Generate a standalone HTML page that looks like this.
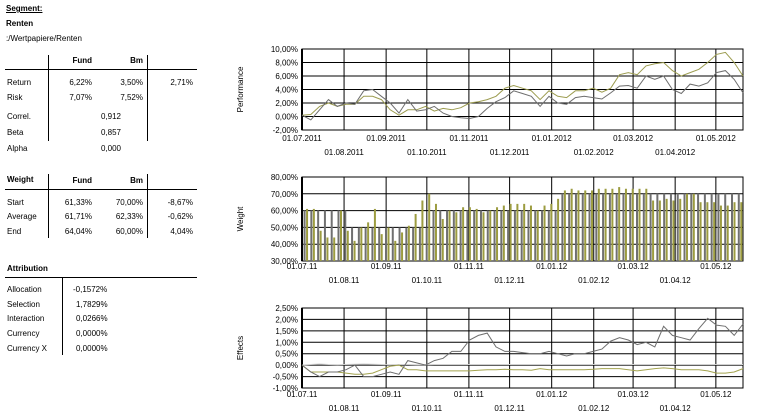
<!DOCTYPE html>
<html><head><meta charset="utf-8"><style>
body{margin:0;width:763px;height:419px;background:#fff;font-family:"Liberation Sans",sans-serif;overflow:hidden;position:relative}
.t{position:absolute;font-size:8px;color:#000;white-space:nowrap}
.b{font-weight:bold}
.r{text-align:right}
.vl{position:absolute;width:1px;background:#000}
.hl{position:absolute;height:1px;background:#000}
svg{position:absolute;left:0;top:0}
</style></head><body>
<div class="t b" style="left:6px;top:4px;text-decoration:underline">Segment:</div>
<div class="t b" style="left:6px;top:19px">Renten</div>
<div class="t" style="left:6px;top:34px">:/Wertpapiere/Renten</div>

<div>
<div class="vl" style="left:48px;top:55px;height:86px"></div>
<div class="vl" style="left:147px;top:55px;height:86px"></div>
<div class="hl" style="left:5px;top:69px;width:192px"></div>
<div class="t b r" style="left:52px;top:56px;width:40px">Fund</div>
<div class="t b r" style="left:103px;top:56px;width:40px">Bm</div>
<div class="t" style="left:7px;top:78px">Return</div>
<div class="t r" style="left:52px;top:78px;width:40px">6,22%</div>
<div class="t r" style="left:103px;top:78px;width:40px">3,50%</div>
<div class="t r" style="left:150px;top:78px;width:43px">2,71%</div>
<div class="t" style="left:7px;top:93px">Risk</div>
<div class="t r" style="left:52px;top:93px;width:40px">7,07%</div>
<div class="t r" style="left:103px;top:93px;width:40px">7,52%</div>
<div class="t" style="left:7px;top:112px">Correl.</div>
<div class="t r" style="left:80px;top:112px;width:41px">0,912</div>
<div class="t" style="left:7px;top:128px">Beta</div>
<div class="t r" style="left:80px;top:128px;width:41px">0,857</div>
<div class="t" style="left:7px;top:144px">Alpha</div>
<div class="t r" style="left:80px;top:144px;width:41px">0,000</div>
</div>

<div>
<div class="vl" style="left:48px;top:174px;height:64px"></div>
<div class="vl" style="left:147px;top:174px;height:64px"></div>
<div class="hl" style="left:5px;top:189px;width:192px"></div>
<div class="t b" style="left:7px;top:175px">Weight</div>
<div class="t b r" style="left:52px;top:176px;width:40px">Fund</div>
<div class="t b r" style="left:103px;top:176px;width:40px">Bm</div>
<div class="t" style="left:7px;top:198px">Start</div>
<div class="t r" style="left:52px;top:198px;width:40px">61,33%</div>
<div class="t r" style="left:103px;top:198px;width:40px">70,00%</div>
<div class="t r" style="left:150px;top:198px;width:43px">-8,67%</div>
<div class="t" style="left:7px;top:212px">Average</div>
<div class="t r" style="left:52px;top:212px;width:40px">61,71%</div>
<div class="t r" style="left:103px;top:212px;width:40px">62,33%</div>
<div class="t r" style="left:150px;top:212px;width:43px">-0,62%</div>
<div class="t" style="left:7px;top:227px">End</div>
<div class="t r" style="left:52px;top:227px;width:40px">64,04%</div>
<div class="t r" style="left:103px;top:227px;width:40px">60,00%</div>
<div class="t r" style="left:150px;top:227px;width:43px">4,04%</div>
</div>

<div>
<div class="t b" style="left:7px;top:264px;font-size:8px">Attribution</div>
<div class="hl" style="left:5px;top:277px;width:192px"></div>
<div class="vl" style="left:62px;top:277px;height:78px"></div>
<div class="t" style="left:7px;top:285px">Allocation</div><div class="t" style="left:73px;top:285px">-0,1572%</div>
<div class="t" style="left:7px;top:300px">Selection</div><div class="t" style="left:76px;top:300px">1,7829%</div>
<div class="t" style="left:7px;top:314px">Interaction</div><div class="t" style="left:76px;top:314px">0,0266%</div>
<div class="t" style="left:7px;top:329px">Currency</div><div class="t" style="left:76px;top:329px">0,0000%</div>
<div class="t" style="left:7px;top:344px">Currency X</div><div class="t" style="left:76px;top:344px">0,0000%</div>
</div>

<svg id="svg" width="763" height="419"></svg>
<script>
const monthsLong=["01.07.2011","01.08.2011","01.09.2011","01.10.2011","01.11.2011","01.12.2011","01.01.2012","01.02.2012","01.03.2012","01.04.2012","01.05.2012"];
const monthsShort=["01.07.11","01.08.11","01.09.11","01.10.11","01.11.11","01.12.11","01.01.12","01.02.12","01.03.12","01.04.12","01.05.12"];
const monthDays=[0,31,62,92,123,153,184,215,244,275,305];
const totalDays=325;
const perfTicks=[-2,0,2,4,6,8,10];
const perfFund=[0.2,0.3,1.5,2.0,1.5, 1.8,1.8,3.0,3.0,2.5, 1.0,0.2,1.0,1.0, 1.5,0.8,1.2,1.0,1.3, 2.0,2.2,2.5,3.0, 4.2,4.6,4.2,3.8, 2.5,3.8,3.0,2.8,3.8, 3.8,4.2,3.6,4.2, 6.2,6.5,6.2,7.5,7.8, 8.0,6.8,6.0,6.5, 7.0,8.0,9.2,9.5,8.0,6.0];
const perfBm=[0.2,-0.5,1.0,2.5,1.5, 2.0,1.8,3.8,4.0,3.0, 2.0,0.5,2.5,0.8, 1.0,1.5,0.5,0.0,-0.2, -0.3,0.0,1.2,2.2, 2.8,3.8,3.4,3.0, 1.5,3.0,2.0,1.8,2.8, 3.0,2.8,2.6,3.5, 4.5,4.6,4.2,6.0,5.5, 6.0,4.0,3.4,4.8, 4.5,5.0,6.5,6.8,5.5,3.5];
const weightTicks=[30,40,50,60,70,80];
const weightBm=[60,60,60,60,60,60, 60,50,50,50,50,50, 50,50,50,50,50,50, 50,60,60,60,60,60, 60,60,60,60,60,60, 60,60,60,60,60,60, 60,60,70,70,70,70, 70,70,70,70,70,70, 70,70,70,70,70,70, 70,70,70,70,70,70, 70,70,70,70,70];
const weightFund=[61,61,48,44,44,60, 48,42,50,53,61,46, 50,42,47,51,58,66, 70,64,55,60,59,62, 62,61,59,60,62,63, 64,64,64,63,60,63, 64,67,72,73,72,72, 72,73,73,73,74,73, 73,73,73,66,66,67, 66,67,70,70,65,65, 65,63,63,65,65];
const effTicks=[-1,-0.5,0,0.5,1,1.5,2,2.5];
const effTickLabels=["-1,00%","-0,50%","0,00%","0,50%","1,00%","1,50%","2,00%","2,50%"];
const effSelection=[0,-0.3,-0.5,-0.3,-0.3, -0.2,0,-0.5,-0.5,-0.4, -0.3,-0.4,0.2,0.1, 0.0,0.2,0.3,0.6,0.6, 1.1,1.3,1.4,0.8, 0.6,0.6,0.55,0.5, 0.5,0.6,0.5,0.4,0.5, 0.5,0.6,0.7,1.05, 1.2,1.1,0.9,1.0,0.8, 1.7,1.3,1.2,1.1, 1.6,2.05,1.75,1.7,1.3,1.8];
const effAllocation=[0,-0.3,-0.3,-0.3,-0.3, -0.35,-0.4,-0.4,-0.35,-0.2, -0.05,0,-0.2,-0.2, -0.25,-0.25,-0.25,-0.25,-0.25, -0.25,-0.22,-0.2,-0.2, -0.18,-0.2,-0.2,-0.22, -0.15,-0.2,-0.2,-0.2,-0.2, -0.2,-0.18,-0.15,-0.15, -0.15,-0.2,-0.25,-0.2,-0.15, -0.12,-0.15,-0.2,-0.2, -0.2,-0.25,-0.35,-0.35,-0.3,-0.15];
const effInteraction=[0,0.03,0.05,0.03,0.02, 0.03,0.04,0.05,0.04,0.03, 0.02,0.03,0.03,0.02, 0.02,0.03,0.03,0.03,0.03, 0.03,0.03,0.03,0.03, 0.03,0.03,0.03,0.03, 0.03,0.03,0.03,0.03,0.03, 0.03,0.03,0.03,0.03, 0.03,0.03,0.03,0.03,0.03, 0.03,0.03,0.03,0.03, 0.03,0.03,0.03,0.03,0.03,0.03];

const NS="http://www.w3.org/2000/svg";
const svg=document.getElementById('svg');
const X0=302,X1=743;
function xDay(d){return X0+d/totalDays*(X1-X0);}
function mk(tag,attrs){const e=document.createElementNS(NS,tag);for(const k in attrs)e.setAttribute(k,attrs[k]);svg.appendChild(e);return e;}
function fmt(v,dec){return v.toFixed(dec).replace('.',',')+'%';}
function chart(name,top,bot,ticks,tickLabels,labelRows,title){
  const min=ticks[0],max=ticks[ticks.length-1];
  const y=v=>bot-(v-min)/(max-min)*(bot-top);
  ticks.forEach((t,i)=>{
    const l=mk('line',{x1:X0,x2:X1,y1:y(t),y2:y(t),stroke:'#000','stroke-width':1});
    
    
    const tx=mk('text',{x:X0-4,y:y(t)+3,'font-size':8,'text-anchor':'end'});
    tx.textContent=tickLabels[i];
    
    
  });
  monthDays.forEach((d,i)=>{
    const l=mk('line',{x1:xDay(d),x2:xDay(d),y1:top,y2:bot,stroke:'#000','stroke-width':1});
    
    
    const tx=mk('text',{x:xDay(d),y:bot+(i%2===0?labelRows[0]:labelRows[1]),'font-size':8,'text-anchor':'middle'});
    tx.textContent=(name==='performance'?monthsLong:monthsShort)[i];
    
    
  });
  const b=mk('rect',{x:X0,y:top,width:X1-X0,height:bot-top,fill:'none',stroke:'#000','stroke-width':1});
  
  
  const lx=mk('line',{x1:X0,x2:X0,y1:top,y2:bot,stroke:'#000','stroke-width':2});
  
  
  const tt=mk('text',{x:0,y:0,'font-size':8,'text-anchor':'middle',transform:`translate(243,${(top+bot)/2}) rotate(-90)`});
  tt.textContent=title;
  
  
  return y;
}
function line(name,vals,y,color){
  const n=vals.length;
  const pts=vals.map((v,i)=>xDay(i*totalDays/(n-1)).toFixed(1)+','+y(v).toFixed(1)).join(' ');
  const p=mk('polyline',{points:pts,fill:'none',stroke:color,'stroke-width':1});
  
  
}
const y1=chart('performance',49,130,perfTicks,perfTicks.map(t=>fmt(t,2)),[11,25],'Performance');
line('performance-fund-line',perfFund,y1,'#9c9c50');
line('performance-benchmark-line',perfBm,y1,'#6e6e6e');
const y2=chart('weight',177,261,weightTicks,weightTicks.map(t=>fmt(t,2)),[8,22],'Weight');
const wn=weightBm.length;
for(let i=0;i<wn;i++){
  const cx=xDay(i*5+3);
  const r1=mk('rect',{x:cx-2.5,y:y2(weightBm[i]),width:2,height:261-y2(weightBm[i]),fill:'#707070'});
  
  
  const r2=mk('rect',{x:cx,y:y2(weightFund[i]),width:2,height:261-y2(weightFund[i]),fill:'#9c9c40'});
  
  
}
const y3=chart('effects',308,388,effTicks,effTickLabels,[9,23],'Effects');
line('effects-interaction-line',effInteraction,y3,'#d0d0d0');
line('effects-allocation-line',effAllocation,y3,'#a4a450');
line('effects-selection-line',effSelection,y3,'#6e6e6e');
</script>
</body></html>
